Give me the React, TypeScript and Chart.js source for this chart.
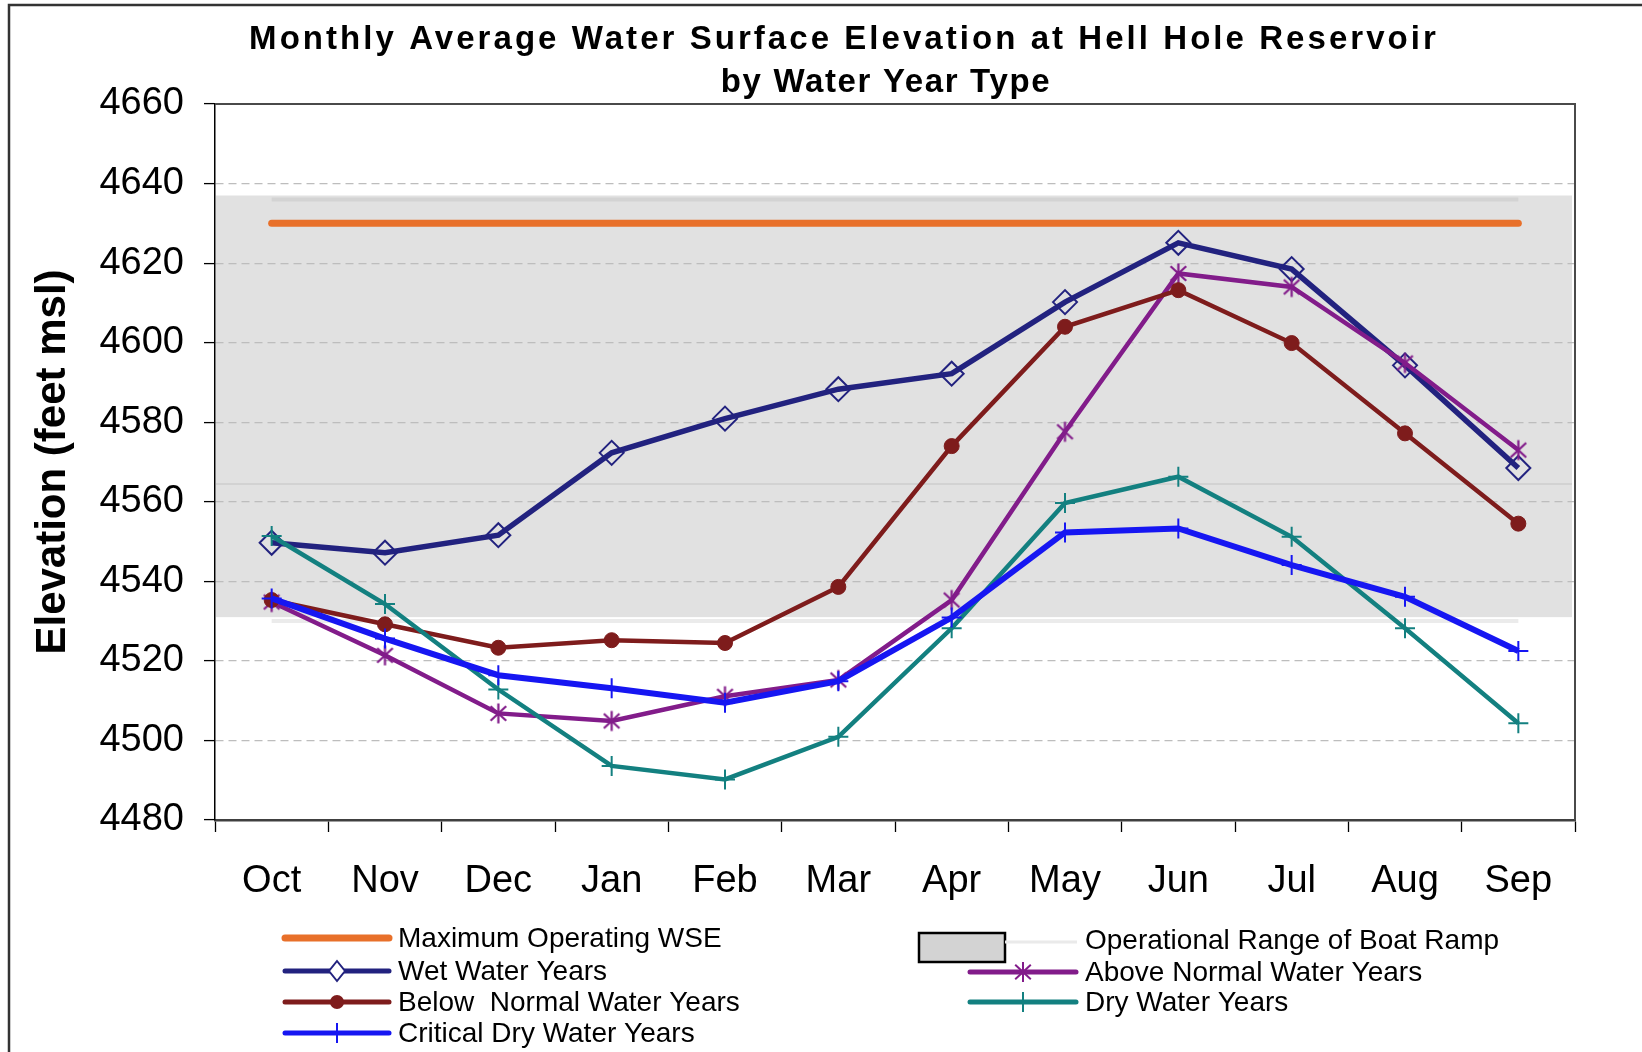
import React, { useEffect, useRef } from 'react';
import { Chart, registerables } from 'chart.js';

Chart.register(...registerables);

// ---------- data ----------
const months = ['Oct', 'Nov', 'Dec', 'Jan', 'Feb', 'Mar', 'Apr', 'May', 'Jun', 'Jul', 'Aug', 'Sep'];
const yAxisMin = 4480;
const yAxisMax = 4660;
const yAxisStep = 20;

const titleLines = ['Monthly Average Water Surface Elevation at Hell Hole Reservoir', 'by Water Year Type'];
const yAxisTitle = 'Elevation (feet msl)';

// operational range of boat ramp (shaded band)
const boatRampTop = 4637;
const boatRampBottom = 4531;
const boatRampMid = 4564.5;

const maxOperatingWSE = [4630, 4630, 4630, 4630, 4630, 4630, 4630, 4630, 4630, 4630, 4630, 4630];
const boatRampUpperLine = [4636, 4636, 4636, 4636, 4636, 4636, 4636, 4636, 4636, 4636, 4636, 4636];
const boatRampLowerLine = [4530, 4530, 4530, 4530, 4530, 4530, 4530, 4530, 4530, 4530, 4530, 4530];

const wetYears = [4549.7, 4547.2, 4551.6, 4572.3, 4580.9, 4588.3, 4592.2, 4610.2, 4625.1, 4618.5, 4594.3, 4568.5];
const aboveNormalYears = [4534.8, 4521.4, 4506.8, 4504.9, 4511.1, 4515.2, 4535.3, 4577.6, 4617.4, 4614.0, 4594.9, 4573.0];
const belowNormalYears = [4535.3, 4529.2, 4523.3, 4525.2, 4524.5, 4538.6, 4574.0, 4604.0, 4613.2, 4599.9, 4577.2, 4554.5];
const dryYears = [4551.4, 4534.3, 4512.8, 4493.6, 4490.2, 4500.9, 4528.2, 4559.7, 4566.3, 4551.2, 4528.2, 4504.3];
const criticalDryYears = [4535.7, 4525.6, 4516.4, 4513.1, 4509.5, 4514.9, 4530.9, 4552.3, 4553.3, 4544.1, 4536.1, 4522.5];

// ---------- styles ----------
const FONT = '"Liberation Sans", Arial, sans-serif';
const C = {
  orange: '#E8702A',
  wet: '#22227F',
  above: '#821C8A',
  below: '#7E1C1C',
  dry: '#138080',
  crit: '#1616F2',
  rampFill: '#E1E1E1',
  rampUpper: '#D3D3D3',
  rampLower: '#EBEBEB',
};

function makeAsterisk(color: string, r: number, lw: number): HTMLCanvasElement {
  const size = Math.ceil(r * 2 + lw * 2 + 2);
  const c = document.createElement('canvas');
  c.width = size;
  c.height = size;
  const g = c.getContext('2d')!;
  const m = size / 2;
  g.strokeStyle = color;
  g.lineWidth = lw;
  drawAsteriskPath(g, m, m, r);
  return c;
}

function drawAsteriskPath(g: CanvasRenderingContext2D, x: number, y: number, r: number) {
  g.beginPath();
  g.moveTo(x, y - r);
  g.lineTo(x, y + r);
  const dx = r * 0.78;
  const dy = r * 0.72;
  g.moveTo(x - dx, y - dy);
  g.lineTo(x + dx, y + dy);
  g.moveTo(x + dx, y - dy);
  g.lineTo(x - dx, y + dy);
  g.stroke();
}

function drawMarker(ctx: CanvasRenderingContext2D, kind: string, x: number, y: number, color: string) {
  ctx.save();
  ctx.strokeStyle = color;
  ctx.fillStyle = color;
  ctx.lineWidth = 2;
  if (kind === 'diamond') {
    const r = 10;
    ctx.beginPath();
    ctx.moveTo(x, y - r);
    ctx.lineTo(x + r * 0.8, y);
    ctx.lineTo(x, y + r);
    ctx.lineTo(x - r * 0.8, y);
    ctx.closePath();
    ctx.fillStyle = '#fff';
    ctx.fill();
    ctx.stroke();
  } else if (kind === 'circle') {
    ctx.beginPath();
    ctx.arc(x, y, 7, 0, Math.PI * 2);
    ctx.fill();
  } else if (kind === 'cross') {
    ctx.beginPath();
    ctx.moveTo(x, y - 10);
    ctx.lineTo(x, y + 10);
    ctx.stroke();
  } else if (kind === 'asterisk') {
    drawAsteriskPath(ctx, x, y, 10);
  }
  ctx.restore();
}

const rampPlugin = {
  id: 'boatRampBand',
  beforeDraw(chart: any) {
    const { ctx, chartArea } = chart;
    const y = chart.scales.y;
    const top = y.getPixelForValue(boatRampTop);
    const bottom = y.getPixelForValue(boatRampBottom);
    const mid = y.getPixelForValue(boatRampMid);
    ctx.save();
    ctx.fillStyle = C.rampFill;
    ctx.fillRect(chartArea.left + 1, top, chartArea.right - chartArea.left - 4, bottom - top);
    ctx.strokeStyle = '#D2D2D2';
    ctx.lineWidth = 2;
    ctx.beginPath();
    ctx.moveTo(chartArea.left + 1, mid);
    ctx.lineTo(chartArea.right - 3, mid);
    ctx.stroke();
    ctx.restore();
  },
};

const framePlugin = {
  id: 'frameAndTitle',
  afterDraw(chart: any) {
    const { ctx, chartArea } = chart;
    ctx.save();
    // plot area top / right border
    ctx.strokeStyle = '#4a4a4a';
    ctx.lineWidth = 2;
    ctx.beginPath();
    ctx.moveTo(chartArea.left, chartArea.top);
    ctx.lineTo(chartArea.right, chartArea.top);
    ctx.lineTo(chartArea.right, chartArea.bottom);
    ctx.stroke();
    // outer frame (top and left edge)
    ctx.strokeStyle = '#333';
    ctx.lineWidth = 2.5;
    ctx.beginPath();
    ctx.moveTo(9, 1052);
    ctx.lineTo(9, 5);
    ctx.lineTo(1642, 5);
    ctx.stroke();
    // title
    ctx.fillStyle = '#000';
    ctx.textAlign = 'center';
    ctx.textBaseline = 'alphabetic';
    ctx.font = `bold 33px ${FONT}`;
    (ctx as any).letterSpacing = '3.05px';
    ctx.fillText(titleLines[0], 844, 49);
    (ctx as any).letterSpacing = '1.65px';
    ctx.fillText(titleLines[1], 886, 92);
    (ctx as any).letterSpacing = '0px';

    // legend
    const ds = chart.data.datasets;
    const find = (label: string) => ds.find((d: any) => d.label === label);
    ctx.font = `28px ${FONT}`;
    ctx.textAlign = 'left';
    ctx.textBaseline = 'middle';
    const leftItems = [
      { label: 'Maximum Operating WSE', y: 938, marker: '', lw: 7 },
      { label: 'Wet Water Years', y: 971, marker: 'diamond', lw: 5 },
      { label: 'Below  Normal Water Years', y: 1002, marker: 'circle', lw: 5 },
      { label: 'Critical Dry Water Years', y: 1033, marker: 'cross', lw: 5 },
    ];
    for (const it of leftItems) {
      const d = find(it.label);
      const color = d ? d.borderColor : '#000';
      ctx.strokeStyle = color;
      ctx.lineWidth = it.lw;
      ctx.lineCap = 'round';
      ctx.beginPath();
      ctx.moveTo(285, it.y);
      ctx.lineTo(389, it.y);
      ctx.stroke();
      ctx.lineCap = 'butt';
      if (it.marker) drawMarker(ctx, it.marker, 337, it.y, color);
      ctx.fillStyle = '#000';
      ctx.fillText(it.label, 398, it.y + 1);
    }
    // boat ramp item
    ctx.fillStyle = '#D3D3D3';
    ctx.fillRect(919, 933, 86, 29);
    ctx.strokeStyle = '#000';
    ctx.lineWidth = 2.5;
    ctx.strokeRect(919, 933, 86, 29);
    ctx.strokeStyle = '#EAEAEA';
    ctx.lineWidth = 3;
    ctx.beginPath();
    ctx.moveTo(1005, 942);
    ctx.lineTo(1077, 942);
    ctx.stroke();
    ctx.fillStyle = '#000';
    ctx.fillText('Operational Range of Boat Ramp', 1085, 941);
    const rightItems = [
      { label: 'Above Normal Water Years', y: 972, marker: 'asterisk' },
      { label: 'Dry Water Years', y: 1002, marker: 'cross' },
    ];
    for (const it of rightItems) {
      const d = find(it.label);
      const color = d ? d.borderColor : '#000';
      ctx.strokeStyle = color;
      ctx.lineWidth = 5;
      ctx.lineCap = 'round';
      ctx.beginPath();
      ctx.moveTo(970, it.y);
      ctx.lineTo(1076, it.y);
      ctx.stroke();
      ctx.lineCap = 'butt';
      drawMarker(ctx, it.marker, 1023, it.y, color);
      ctx.fillStyle = '#000';
      ctx.fillText(it.label, 1085, it.y + 1);
    }
    ctx.restore();
  },
};

export default function App() {
  const ref = useRef<HTMLCanvasElement | null>(null);

  useEffect(() => {
    if (!ref.current) return;
    Chart.defaults.font.family = FONT;
    const asterisk = makeAsterisk(C.above, 10, 2.2);
    const line = { tension: 0, fill: false, pointHitRadius: 0 };
    const chart = new Chart(ref.current, {
      type: 'line',
      data: {
        labels: months,
        datasets: [
          {
            ...line, label: 'Critical Dry Water Years', data: criticalDryYears, borderColor: C.crit, borderWidth: 6,
            pointStyle: 'cross', pointRadius: 10, pointBorderWidth: 2, pointBorderColor: C.crit, pointBackgroundColor: C.crit, order: 1,
          },
          {
            ...line, label: 'Dry Water Years', data: dryYears, borderColor: C.dry, borderWidth: 4.5,
            pointStyle: 'cross', pointRadius: 10, pointBorderWidth: 2, pointBorderColor: C.dry, pointBackgroundColor: C.dry, order: 2,
          },
          {
            ...line, label: 'Below  Normal Water Years', data: belowNormalYears, borderColor: C.below, borderWidth: 4.5,
            pointStyle: 'circle', pointRadius: 7.5, pointBorderWidth: 1, pointBorderColor: C.below, pointBackgroundColor: C.below, order: 3,
          },
          {
            ...line, label: 'Above Normal Water Years', data: aboveNormalYears, borderColor: C.above, borderWidth: 4.5,
            pointStyle: asterisk, pointRadius: 10, pointBorderColor: C.above, pointBackgroundColor: C.above, order: 4,
          },
          {
            ...line, label: 'Wet Water Years', data: wetYears, borderColor: C.wet, borderWidth: 5.5,
            pointStyle: 'rectRot', pointRadius: 12, pointBorderWidth: 2, pointBorderColor: C.wet, pointBackgroundColor: 'rgba(0,0,0,0)', order: 5,
          },
          {
            ...line, label: 'Maximum Operating WSE', data: maxOperatingWSE, borderColor: C.orange, borderWidth: 7,
            borderCapStyle: 'round', pointRadius: 0, order: 6,
          },
          {
            ...line, label: 'Operational Range of Boat Ramp', data: boatRampUpperLine, borderColor: C.rampUpper, borderWidth: 4,
            pointRadius: 0, order: 7,
          },
          {
            ...line, label: 'Operational Range of Boat Ramp (lower)', data: boatRampLowerLine, borderColor: C.rampLower, borderWidth: 4,
            pointRadius: 0, order: 8,
          },
        ],
      },
      options: {
        animation: false,
        responsive: false,
        events: [],
        layout: { padding: { left: 10, right: 67, top: 104, bottom: 132 } },
        plugins: {
          legend: { display: false },
          title: { display: false },
          tooltip: { enabled: false },
        },
        scales: {
          x: {
            type: 'category',
            offset: true,
            grid: {
              display: true, offset: true, drawOnChartArea: false, drawTicks: true,
              tickLength: 12, tickColor: '#000', tickWidth: 1.3,
            },
            border: { display: true, color: '#404040', width: 2.5 },
            ticks: { color: '#000', font: { size: 38 }, padding: 27, maxRotation: 0, autoSkip: false },
            afterFit: (s: any) => { s.height = 100; },
          },
          y: {
            type: 'linear',
            min: yAxisMin,
            max: yAxisMax,
            ticks: {
              stepSize: yAxisStep, color: '#000', font: { size: 38 }, padding: 20,
              callback: (v: any) => String(v),
            },
            grid: { color: '#BDBDBD', lineWidth: 1.2, tickColor: '#000', tickLength: 11, tickWidth: 1.3 },
            border: { display: true, color: '#000', width: 1.5, dash: [8, 5] },
            title: {
              display: true, text: yAxisTitle, color: '#000',
              font: { size: 42, weight: 'bold' }, padding: { top: 18, bottom: 0 },
            },
            afterFit: (s: any) => { s.width = 205; },
          },
        },
      },
      plugins: [rampPlugin, framePlugin],
    } as any);
    return () => chart.destroy();
  }, []);

  return (
    <div style={{ position: 'absolute', left: 0, top: 0, width: 1642, height: 1052, background: '#fff' }}>
      <canvas ref={ref} width={1642} height={1052} style={{ display: 'block' }} />
    </div>
  );
}
